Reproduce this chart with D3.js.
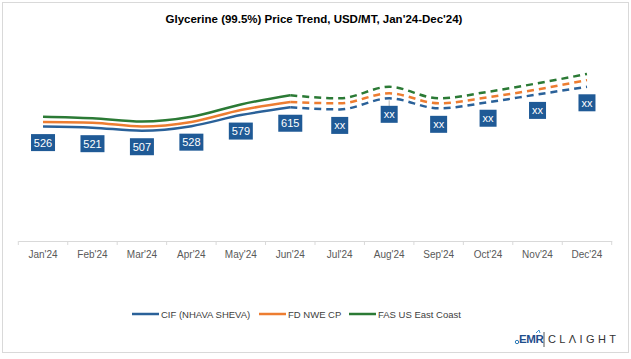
<!DOCTYPE html>
<html>
<head>
<meta charset="utf-8">
<script src="https://cdn.jsdelivr.net/npm/d3@7"></script>
<style>
  body { margin: 0; background: #fff; }
  text { font-family: "Liberation Sans Narrow", "Liberation Sans", Arial, sans-serif; }
</style>
</head>
<body>
<script>
const width = 631;
const height = 359;

const months = ["Jan'24", "Feb'24", "Mar'24", "Apr'24", "May'24", "Jun'24",
  "Jul'24", "Aug'24", "Sep'24", "Oct'24", "Nov'24", "Dec'24"];
const cifNhavaSheva = [526, 521, 507, 528, 579, 615, 605, 656, 610, 638, 674, 709];
const fdNweCp = [547, 544, 526, 547, 602, 639, 633, 679, 633, 661, 697, 740];
const fasUsEastCoast = [571, 564, 549, 571, 628, 670, 656, 709, 656, 686, 725, 768];
const pointLabels = ['526', '521', '507', '528', '579', '615', 'xx', 'xx', 'xx', 'xx', 'xx', 'xx'];
const actualCount = 6; // Jan-Jun actual, Jun-Dec forecast (dashed)

const seriesList = [
  { name: 'CIF (NHAVA SHEVA)', values: cifNhavaSheva, color: '#2a6199' },
  { name: 'FD NWE CP', values: fdNweCp, color: '#ed7d31' },
  { name: 'FAS US East Coast', values: fasUsEastCoast, color: '#2b7a35' }
];

const svg = d3.select('body').append('svg').attr('width', width).attr('height', height);

// chart border
svg.append('rect')
  .attr('x', 2.5).attr('y', 2.5)
  .attr('width', 626).attr('height', 350)
  .attr('fill', '#fff').attr('stroke', '#d9d9d9');

svg.append('text')
  .attr('x', 314).attr('y', 23)
  .attr('text-anchor', 'middle')
  .attr('font-size', 11.5).attr('font-weight', 'bold')
  .attr('fill', '#000')
  .text("Glycerine (99.5%) Price Trend, USD/MT, Jan'24-Dec'24)");

const x = d3.scaleBand().domain(months).range([18.3, 611.7]);
const y = d3.scaleLinear().domain([0, 900]).range([241, 241 - 900 * 0.2175]);
const cx = m => x(m) + x.bandwidth() / 2;

// x axis
const xAxis = svg.append('g')
  .attr('transform', 'translate(0,241)')
  .call(d3.axisBottom(x).tickSize(0).tickPadding(10));
xAxis.select('.domain').attr('stroke', '#d9d9d9');
xAxis.selectAll('text').attr('font-size', 10).attr('fill', '#595959')
  .style('font-family', '"Liberation Sans Narrow", "Liberation Sans", Arial, sans-serif');
xAxis.selectAll('.bound')
  .data(d3.range(months.length + 1))
  .enter().append('line')
  .attr('x1', i => x.range()[0] + i * x.step())
  .attr('x2', i => x.range()[0] + i * x.step())
  .attr('y1', 0).attr('y2', 4)
  .attr('stroke', '#d9d9d9');

const line = d3.line().x(d => cx(d.m)).y(d => y(d.v)).curve(d3.curveMonotoneX);

seriesList.forEach(s => {
  const pts = s.values.map((v, i) => ({ m: months[i], v }));
  svg.append('path')
    .datum(pts.slice(0, actualCount))
    .attr('d', line)
    .attr('fill', 'none').attr('stroke', s.color).attr('stroke-width', 2.5);
  svg.append('path')
    .datum(pts.slice(actualCount - 1))
    .attr('d', line)
    .attr('fill', 'none').attr('stroke', s.color).attr('stroke-width', 2.5)
    .attr('stroke-dasharray', '7,5');
});

// data labels under CIF line
const labels = svg.append('g');
pointLabels.forEach((lab, i) => {
  const px = cx(months[i]);
  const py = y(cifNhavaSheva[i]) + 16;
  const w = lab === 'xx' ? 17 : 24;
  if (i === 7) {
    labels.append('line')
      .attr('x1', px).attr('x2', px)
      .attr('y1', y(cifNhavaSheva[i]) + 2).attr('y2', py - 7)
      .attr('stroke', '#a6a6a6').attr('stroke-width', 0.8);
  }
  labels.append('rect')
    .attr('x', px - w / 2).attr('y', py - 8.5)
    .attr('width', w).attr('height', 17)
    .attr('fill', '#1f5a96');
  labels.append('text')
    .attr('x', px).attr('y', py + 4)
    .attr('text-anchor', 'middle')
    .attr('font-size', 11).attr('fill', '#fff')
    .text(lab);
});

// legend
const legendItems = [
  { x: 132, textX: 161 },
  { x: 259, textX: 288 },
  { x: 349, textX: 378 }
];
const legend = svg.append('g');
seriesList.forEach((s, i) => {
  const it = legendItems[i];
  legend.append('line')
    .attr('x1', it.x).attr('x2', it.x + 27)
    .attr('y1', 314).attr('y2', 314)
    .attr('stroke', s.color).attr('stroke-width', 2.5);
  legend.append('text')
    .attr('x', it.textX).attr('y', 317.5)
    .attr('font-size', 9.5).attr('fill', '#404040')
    .text(s.name);
});

// logo
const logo = svg.append('g');
logo.append('circle').attr('cx', 517).attr('cy', 342).attr('r', 1.7)
  .attr('fill', 'none').attr('stroke', '#2a7ab8').attr('stroke-width', 1);
logo.append('path')
  .attr('d', 'M536,333 l3,-3 l1,3')
  .attr('fill', 'none').attr('stroke', '#3a8fd0').attr('stroke-width', 1);
logo.append('text')
  .attr('x', 519).attr('y', 343)
  .attr('font-size', 11.5).attr('font-weight', 'bold').attr('fill', '#1f4e8c')
  .attr('letter-spacing', -0.4)
  .text('EMR');
logo.append('line')
  .attr('x1', 544).attr('x2', 544).attr('y1', 332).attr('y2', 347)
  .attr('stroke', '#555').attr('stroke-width', 1);
logo.append('text')
  .attr('x', 548).attr('y', 343)
  .attr('font-size', 11).attr('fill', '#333')
  .attr('letter-spacing', 3.4)
  .style('font-family', '"Liberation Sans", Arial, sans-serif')
  .text('CLΛIGHT');
</script>
</body>
</html>
